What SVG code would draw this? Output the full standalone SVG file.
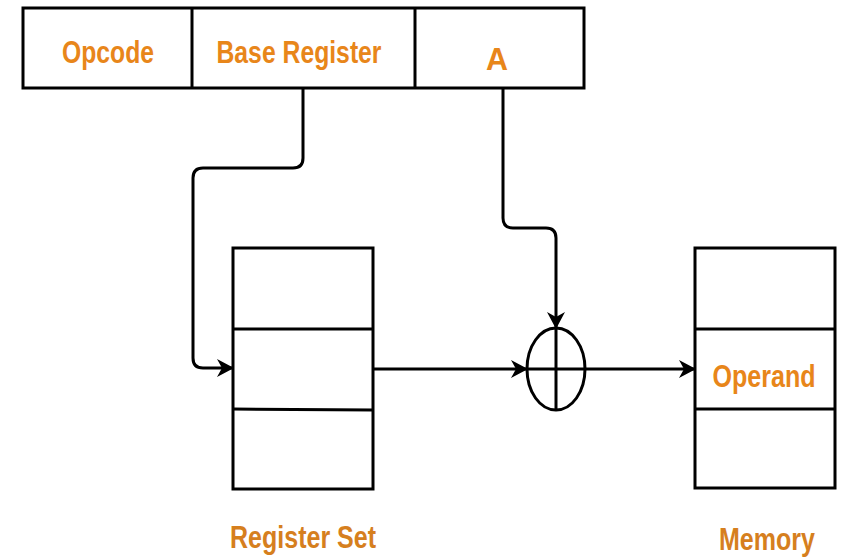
<svg xmlns="http://www.w3.org/2000/svg" width="846" height="557" viewBox="0 0 846 557">
  <style>
    .box { fill: #ffffff; stroke: #000000; stroke-width: 3; }
    .line { fill: none; stroke: #000000; stroke-width: 3; }
    .conn { fill: none; stroke: #000000; stroke-width: 3; stroke-linejoin: round; }
    .lbl { font-family: "Liberation Sans Narrow", "Liberation Sans", Arial, sans-serif; font-weight: bold; font-size: 32px; fill: #E8861A; text-anchor: middle; }
    .cap { fill: #D67F1E; }
  </style>
  <defs>
    <marker id="arrow" viewBox="0 0 17 18" refX="16" refY="9" markerWidth="17" markerHeight="18" markerUnits="userSpaceOnUse" orient="auto">
      <path d="M0,0 L17,9 L0,18 L5,9 Z" fill="#000000"/>
    </marker>
  </defs>
  <rect width="846" height="557" fill="#ffffff"/>

  <!-- instruction format -->
  <g id="instruction">
    <rect class="box" x="23" y="8" width="561" height="80"/>
    <line class="line" x1="192" y1="8" x2="192" y2="88"/>
    <line class="line" x1="415" y1="8" x2="415" y2="88"/>
    <text class="lbl" x="108" y="63" textLength="92" lengthAdjust="spacingAndGlyphs">Opcode</text>
    <text class="lbl" x="299" y="63" textLength="165" lengthAdjust="spacingAndGlyphs">Base Register</text>
    <text class="lbl" x="497" y="70" font-size="36" textLength="22" lengthAdjust="spacingAndGlyphs">A</text>
  </g>

  <!-- register set -->
  <g id="register-set">
    <rect class="box" x="233" y="248" width="140" height="241"/>
    <line class="line" x1="233" y1="329" x2="373" y2="329"/>
    <line class="line" x1="233" y1="409" x2="373" y2="410"/>
    <text class="lbl cap" x="303" y="548" textLength="146" lengthAdjust="spacingAndGlyphs">Register Set</text>
  </g>

  <!-- adder -->
  <g id="adder">
    <ellipse class="line" cx="556" cy="369" rx="29" ry="41"/>
    <line class="line" x1="527" y1="369" x2="585" y2="369"/>
    <line class="line" x1="556" y1="328" x2="556" y2="410"/>
  </g>

  <!-- memory -->
  <g id="memory">
    <rect class="box" x="695" y="248" width="140" height="240"/>
    <line class="line" x1="695" y1="329" x2="835" y2="329"/>
    <line class="line" x1="695" y1="409" x2="835" y2="409"/>
    <text class="lbl" x="764" y="387" textLength="103" lengthAdjust="spacingAndGlyphs">Operand</text>
    <text class="lbl cap" x="767" y="550" textLength="96" lengthAdjust="spacingAndGlyphs">Memory</text>
  </g>

  <!-- connectors -->
  <g id="connectors">
    <path class="conn" d="M303,88 V158 Q303,168 293,168 H203 Q193,168 193,178 V358 Q193,368 203,368 H233" marker-end="url(#arrow)"/>
    <path class="conn" d="M503,88 V218 Q503,228 513,228 H546 Q556,228 556,238 V328" marker-end="url(#arrow)"/>
    <path class="conn" d="M373,369 H527" marker-end="url(#arrow)"/>
    <path class="conn" d="M585,369 H695" marker-end="url(#arrow)"/>
  </g>
</svg>
